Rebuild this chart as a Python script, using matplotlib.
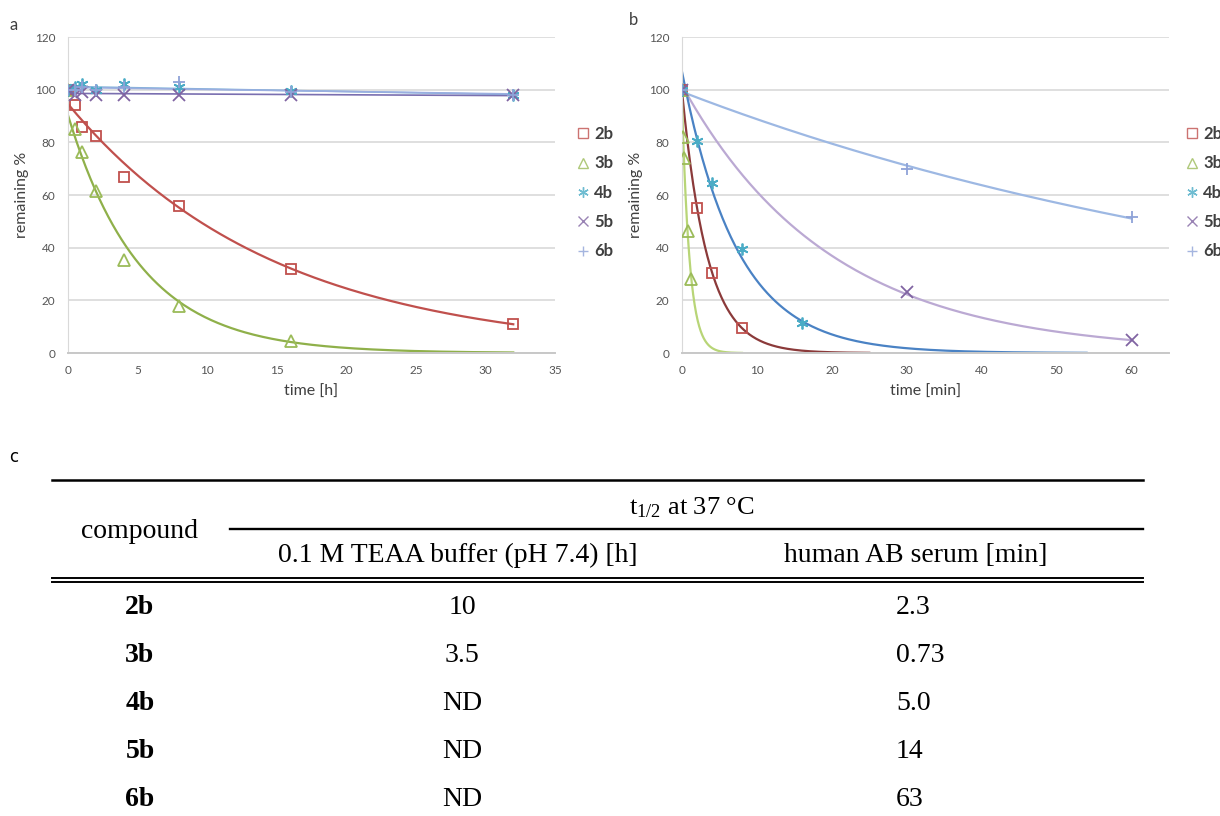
import numpy as np
import matplotlib.pyplot as plt
from matplotlib.lines import Line2D

plt.rcParams['font.family'] = ['Lato', 'DejaVu Sans']
plt.rcParams['mathtext.fontset'] = 'custom'
plt.rcParams['mathtext.rm'] = 'Liberation Serif'

compounds = ['2b', '3b', '4b', '5b', '6b']

# panel a: 0.1 M TEAA buffer, time in h
t_buf = [0, 0.5, 1, 2, 4, 8, 16, 32]
buf_2b = [100, 94, 86, 82.5, 67, 56, 32, 11]
t_buf_3b = [0, 0.5, 1, 2, 4, 8, 16]
buf_3b = [100, 85, 76.5, 61.5, 35.5, 18, 4.5]
buf_4b = [100, 101, 102, 100, 102, 101, 99.5, 98]
buf_5b = [100, 98, 99, 98, 98, 98, 98, 98]
buf_6b = [100, 100, 101, 100, 101, 103, 99, 98]

# panel b: human AB serum, time in min
t_ser_2b = [0, 2, 4, 8]
ser_2b = [100, 55, 30.5, 9.5]
t_ser_3b = [0, 0.1, 0.25, 0.75, 1.25]
ser_3b = [100, 82, 74, 46.5, 28]
t_ser_4b = [0, 2, 4, 8, 16]
ser_4b = [100, 80.5, 64.5, 39.5, 11.5]
t_ser_5b = [0, 30, 60]
ser_5b = [100, 23, 4.8]
t_ser_6b = [0, 30, 60]
ser_6b = [100, 70, 51.5]

# half-life table
buffer_t12 = ['10', '3.5', 'ND', 'ND', 'ND']
serum_t12 = ['2.3', '0.73', '5.0', '14', '63']

mk_col = {'2b': '#c0504d', '3b': '#9bbb59', '4b': '#4bacc6', '5b': '#8064a2', '6b': '#8fa3d8'}
markers = {'2b': 's', '3b': '^', '4b': (6, 2, 0), '5b': 'x', '6b': '+'}


def trend(ax, t, y, t_end, color, lw=1.6):
    # Excel-style exponential trendline: linear fit of ln(y)
    k, b = np.polyfit(t, np.log(y), 1)
    tt = np.linspace(0, t_end, 200)
    ax.plot(tt, np.exp(b + k * tt), color=color, lw=lw, zorder=2)


def pts(ax, t, y, c):
    m = markers[c]
    filled = m in ('x', '+') or isinstance(m, tuple)
    ax.plot(t, y, ls='none', marker=m, ms=8.5 if m != 's' else 7.5,
            mfc='none' if not filled else mk_col[c], mec=mk_col[c], mew=1.3, zorder=3)


def style(ax, xmax, xticks, xlabel):
    ax.set_xlim(0, xmax)
    ax.set_ylim(0, 120)
    ax.set_yticks(range(0, 121, 20))
    ax.set_xticks(xticks)
    ax.yaxis.grid(True, color='#d9d9d9', lw=1.2)
    ax.set_axisbelow(True)
    for s in ['top', 'right']:
        ax.spines[s].set_visible(False)
    ax.spines['left'].set_color('#d9d9d9')
    ax.spines['bottom'].set_color('#c8c8c8')
    ax.spines['bottom'].set_linewidth(1.4)
    ax.tick_params(length=0, labelsize=8.5, colors='#555555', pad=9)
    ax.set_xlabel(xlabel, fontsize=11.5, color='#404040', labelpad=6)
    ax.set_ylabel('remaining %', fontsize=11.5, color='#404040', labelpad=4)


fig = plt.figure(figsize=(12.2, 8.16), dpi=100)

axa = fig.add_axes([68 / 1220, 1 - 353 / 816, 487 / 1220, 316 / 816])
trend(axa, t_buf, buf_2b, 32, '#c0504d')
trend(axa, t_buf_3b, buf_3b, 32, '#8fb04a')
trend(axa, t_buf, buf_4b, 32, '#7fb2d8', lw=1.2)
trend(axa, t_buf, buf_5b, 32, '#7a6fb0', lw=1.2)
trend(axa, t_buf, buf_6b, 32, '#9aaee0', lw=1.2)
pts(axa, t_buf, buf_2b, '2b')
pts(axa, t_buf_3b, buf_3b, '3b')
pts(axa, t_buf, buf_4b, '4b')
pts(axa, t_buf, buf_5b, '5b')
pts(axa, t_buf, buf_6b, '6b')
style(axa, 35, range(0, 36, 5), 'time [h]')

axb = fig.add_axes([682 / 1220, 1 - 353 / 816, 487 / 1220, 316 / 816])
trend(axb, t_ser_6b, ser_6b, 60, '#9db8e3')
trend(axb, t_ser_5b, ser_5b, 60, '#bba9d3')
trend(axb, t_ser_4b, ser_4b, 54, '#4a82c4')
trend(axb, t_ser_2b, ser_2b, 25, '#8b3a3a')
trend(axb, t_ser_3b, ser_3b, 8, '#b8d577')
pts(axb, t_ser_2b, ser_2b, '2b')
pts(axb, t_ser_3b, ser_3b, '3b')
pts(axb, t_ser_4b, ser_4b, '4b')
pts(axb, t_ser_5b, ser_5b, '5b')
pts(axb, t_ser_6b, ser_6b, '6b')
style(axb, 65, range(0, 61, 10), 'time [min]')

handles = []
for c in compounds:
    m = markers[c]
    filled = m in ('x', '+') or isinstance(m, tuple)
    handles.append(Line2D([], [], ls='none', marker=m, ms=7.5, mew=1.0,
                          mfc='none' if not filled else mk_col[c], mec=mk_col[c], alpha=0.8))
for ax, x0 in [(axa, 576), (axb, 1185)]:
    ax.legend(handles, compounds, loc='upper left', bbox_to_anchor=(x0 / 1220, 1 - 126 / 816),
              bbox_transform=fig.transFigure, frameon=False, handlelength=0.8, handletextpad=0.3,
              borderpad=0, borderaxespad=0, labelspacing=0.8,
              prop={'size': 12, 'weight': 'bold'}, labelcolor='#404040')

fig.text(14 / 1220, 1 - 25 / 816, 'a', fontsize=12, color='#404040', ha='center', va='center')
fig.text(634 / 1220, 1 - 20 / 816, 'b', fontsize=12, color='#404040', ha='center', va='center')

# table c, drawn in pixel coordinates
tab = fig.add_axes([0, 0, 1, 1])
tab.set_xlim(0, 1220)
tab.set_ylim(816, 0)
tab.axis('off')
tab.text(14, 457, 'c', fontsize=12, family='DejaVu Sans', ha='center', va='center')
serif = 'Liberation Serif'
fs = 20
tab.plot([52, 1143], [480, 480], color='black', lw=1.8)
tab.plot([230, 1143], [529, 529], color='black', lw=1.7)
tab.plot([52, 1143], [577.5, 577.5], color='black', lw=1.4)
tab.plot([52, 1143], [582, 582], color='black', lw=1.4)
tab.text(140, 531, 'compound', family=serif, fontsize=fs, ha='center', va='center')
tab.text(692, 508, r'$\mathrm{t_{1/2}}$ at 37 °C', family=serif, fontsize=19, ha='center', va='center')
tab.text(458, 555, '0.1 M TEAA buffer (pH 7.4) [h]', family=serif, fontsize=fs, ha='center', va='center')
tab.text(916, 555, 'human AB serum [min]', family=serif, fontsize=fs, ha='center', va='center')
row_y = [608, 656, 704, 752, 800]
for c, b, s, y in zip(compounds, buffer_t12, serum_t12, row_y):
    tab.text(140, y, c, family=serif, fontsize=fs, weight='bold', ha='center', va='center')
    tab.text(462, y, b, family=serif, fontsize=fs, ha='center', va='center')
    tab.text(896, y, s, family=serif, fontsize=fs, ha='left', va='center')

fig.savefig('out.png', dpi=100)
